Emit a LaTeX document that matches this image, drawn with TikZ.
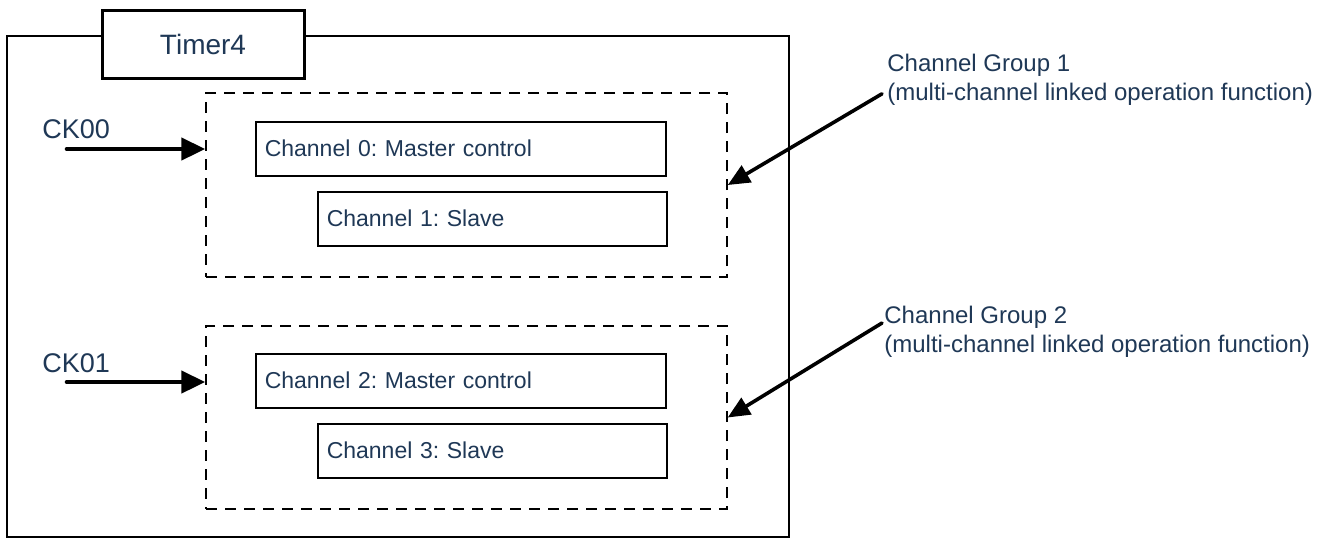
\documentclass[tikz,border=0pt]{standalone}
\usepackage{fontspec}
\setmainfont{Liberation Sans}
\usepackage{tikz}
\usetikzlibrary{
    arrows.meta,
    fit
}
\definecolor{txtNavy}{RGB}{31,56,86}
\tikzset{
  chan/.style    = {draw, line width=0.75pt, anchor=north west, minimum height=27pt,
                    inner xsep=4.5pt, inner ysep=0pt, align=left, text=txtNavy,
                    font=\fontsize{11.5}{14}\selectfont},
  grp/.style     = {draw, dash pattern=on 5.5pt off 4pt, line width=0.75pt, inner sep=0pt},
  lbl/.style     = {anchor=base west, inner sep=0pt, text=txtNavy,
                    font=\fontsize{12}{14}\selectfont},
  cklbl/.style   = {anchor=base west, inner sep=0pt, text=txtNavy,
                    font=\fontsize{13.5}{16}\selectfont},
  ckarr/.style   = {-{Triangle[length=12pt, width=11pt]}, line width=2.3pt, line cap=round},
  grparr/.style  = {-{Triangle[length=11pt, width=9.5pt]}, line width=1.8pt, line cap=round}
}
\frenchspacing

\begin{document}
\begin{tikzpicture}[x=0.5pt, y=-0.5pt]
    \useasboundingbox (0,0) rectangle (1342,538);
    % timer outline and title
    \node[draw, line width=0.75pt, inner sep=0pt, fit={(7,36) (789,537)}] (tmr) {};
    \node[draw, fill=white, line width=1.5pt, minimum width=101pt, minimum height=34pt,
          text=txtNavy, font=\fontsize{14}{16}\selectfont] (tmrname) at (203,44) {Timer4};
    % channel groups
    \node[grp, fit={(206,93) (727,277)}] (grp1) {};
    \node[grp, fit={(206,326) (727,509)}] (grp2) {};
    \node[chan, minimum width=205pt, text width=196pt] (ch0) at (255,121) {Channel 0: Master control};
    \node[chan, minimum width=174.5pt, text width=165.5pt] (ch1) at (317,191) {Channel 1: Slave};
    \node[chan, minimum width=205pt, text width=196pt] (ch2) at (255,353) {Channel 2: Master control};
    \node[chan, minimum width=174.5pt, text width=165.5pt] (ch3) at (317,423) {Channel 3: Slave};
    % clock inputs
    \node[cklbl] (ck0) at (42,138) {CK00};
    \node[cklbl] (ck1) at (42,372) {CK01};
    \coordinate (ck0in) at (67,149);
    \coordinate (ck1in) at (67,382);
    \draw[ckarr] (ck0in) -- (ck0in -| grp1.west);
    \draw[ckarr] (ck1in) -- (ck1in -| grp2.west);
    % group labels
    \node[lbl] (g1a) at (887,71) {Channel Group 1};
    \node[lbl] (g1b) at (887,100) {(multi-channel linked operation function)};
    \node[lbl] (g2a) at (884,323) {Channel Group 2};
    \node[lbl] (g2b) at (884,352) {(multi-channel linked operation function)};
    \draw[grparr] ([xshift=-2.5pt]g1b.west) -- (grp1.east);
    \draw[grparr] ([xshift=-1pt]g2a.base west) -- (grp2.east);
\end{tikzpicture}
\end{document}
